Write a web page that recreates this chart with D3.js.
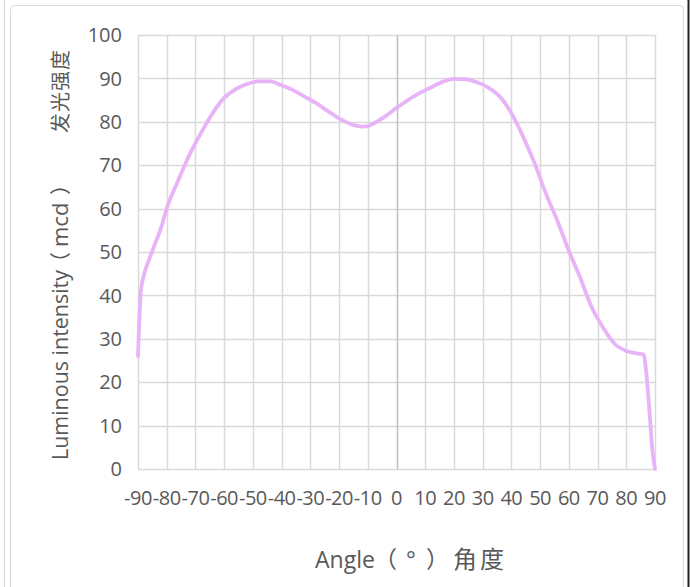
<!DOCTYPE html>
<html>
<head>
<meta charset="utf-8">
<script src="https://cdn.jsdelivr.net/npm/d3@7"></script>
<style>
  html, body { margin: 0; padding: 0; background: #fff; }
  svg { display: block; }
</style>
</head>
<body>
<svg id="chart" width="691" height="587"></svg>
<script>
const angles = [-90,-89,-88,-86,-84,-82,-80,-76,-72,-68,-64,-60,-56,-52,-48,-44,-40,-36,-32,-28,-24,-20,-16,-12,-10,-8,-4,0,4,8,12,16,20,24,28,32,36,40,44,48,52,56,60,64,68,72,76,80,84,86,87,88,89,90];
const intensity = [26,41,44.5,48.5,52,55.5,60,66.5,72.5,77.5,82,85.5,87.5,88.7,89.3,89.3,88.4,87.3,85.8,84.3,82.5,80.8,79.5,78.9,79.0,79.6,81.2,83.2,85.0,86.6,87.9,89.2,89.9,89.8,89.1,87.9,85.8,82,76.7,70.6,63.5,57.2,50.3,44,37.2,32.5,28.8,27.2,26.6,26.4,22,14,5,0];
const xTicks = [-90,-80,-70,-60,-50,-40,-30,-20,-10,0,10,20,30,40,50,60,70,80,90];
const yTicks = [0,10,20,30,40,50,60,70,80,90,100];
// axis titles, split into segments: "Angle（°）角度" and "Luminous intensity（mcd）发光强度"
const xTitleParts = ["Angle", "（", "°", "）", "角度"];
const yTitleParts = ["Luminous intensity", "（", "mcd", "）", "发光强度"];

const svg = d3.select("#chart");
const W = 691, H = 587;
const plot = { left: 138, right: 655, top: 35, bottom: 469 };

// outer frame (screenshot border)
svg.append("line").attr("x1", 4.5).attr("x2", 4.5).attr("y1", 0).attr("y2", H)
  .attr("stroke", "#d4d4d4").attr("stroke-width", 1);
svg.append("rect").attr("x", 10.5).attr("y", 5.5).attr("width", 673).attr("height", 620)
  .attr("rx", 4).attr("fill", "#fff").attr("stroke", "#d9d9d9").attr("stroke-width", 1);
svg.append("line").attr("x1", 688.5).attr("x2", 688.5).attr("y1", 0).attr("y2", H)
  .attr("stroke", "#222").attr("stroke-width", 2);

const x = d3.scaleLinear().domain([-90, 90]).range([plot.left, plot.right]);
const y = d3.scaleLinear().domain([0, 100]).range([plot.bottom, plot.top]);

const font = "'Open Sans', 'Noto Sans CJK SC', sans-serif";
const cjk = "'Noto Sans CJK SC', sans-serif";
const grid = "#d9d9d9";
const textColor = "#595959";

// horizontal gridlines
svg.append("g").selectAll("line").data(yTicks).join("line")
  .attr("x1", plot.left).attr("x2", plot.right)
  .attr("y1", d => Math.round(y(d)) + 0.5).attr("y2", d => Math.round(y(d)) + 0.5)
  .attr("stroke", grid).attr("stroke-width", 1.5);

// vertical gridlines
svg.append("g").selectAll("line").data(xTicks).join("line")
  .attr("x1", d => Math.round(x(d)) + 0.5).attr("x2", d => Math.round(x(d)) + 0.5)
  .attr("y1", plot.top).attr("y2", plot.bottom)
  .attr("stroke", d => d === 0 ? "#bfbfbf" : grid).attr("stroke-width", 1.5);

// y tick labels
svg.append("g").selectAll("text").data(yTicks).join("text")
  .attr("x", 122).attr("y", d => y(d))
  .attr("dy", "0.36em").attr("text-anchor", "end")
  .attr("font-family", font).attr("font-size", 20).attr("fill", textColor)
  .text(d => d);

// x tick labels
svg.append("g").selectAll("text").data(xTicks).join("text")
  .attr("x", d => x(d)).attr("y", 498)
  .attr("dy", "0.36em").attr("text-anchor", "middle")
  .attr("font-family", font).attr("font-size", 20).attr("fill", textColor)
  .attr("letter-spacing", -0.5)
  .text(d => d);

// line
const line = d3.line()
  .x((d, i) => x(angles[i]))
  .y(d => y(d))
  .curve(d3.curveMonotoneX);

svg.append("path").datum(intensity)
  .attr("d", line)
  .attr("fill", "none")
  .attr("stroke", "#e8b4f8")
  .attr("stroke-width", 3.8)
  .attr("stroke-linejoin", "round")
  .attr("stroke-linecap", "round");

// title segments: [start position, target width (or null), font family, size, letter-spacing]
function drawTitle(g, parts, layout) {
  const t = g.append("text").attr("fill", textColor).attr("y", 0).attr("dy", "0.36em");
  parts.forEach((p, i) => {
    const [pos, width, fam, size, ls] = layout[i];
    const ts = t.append("tspan").attr("x", pos)
      .attr("font-family", fam).attr("font-size", size).text(p);
    if (ls) ts.attr("letter-spacing", ls);
    if (width) {
      const w = ts.node().getComputedTextLength();
      if (w > 0) ts.attr("font-size", size * width / w);
    }
  });
  return t;
}

const gx = svg.append("g").attr("transform", "translate(0,562)");
drawTitle(gx, xTitleParts, [
  [315, 60, font, 23, 0],
  [374, null, cjk, 23, 0],
  [406, null, font, 23, 0],
  [426, null, cjk, 23, 0],
  [453, null, cjk, 24, 3]
]);

const gy = svg.append("g").attr("transform", "translate(62,460) rotate(-90)");
drawTitle(gy, yTitleParts, [
  [0, 190, font, 22, 0],
  [187, null, cjk, 21, 0],
  [213, null, font, 22, 0],
  [265, null, cjk, 21, 0],
  [327, null, cjk, 20, 1]
]);
</script>
</body>
</html>
